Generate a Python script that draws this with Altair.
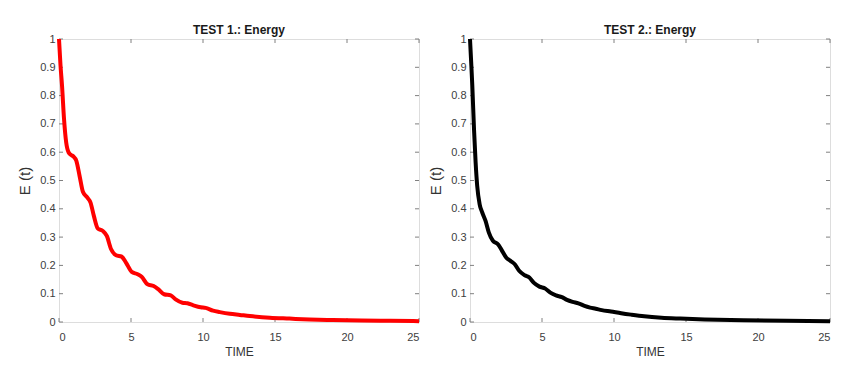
import altair as alt
import pandas as pd

# ---- data ----
t1 = [0, 0.1, 0.21, 0.35, 0.5, 0.67, 0.85, 1.0, 1.2, 1.43, 1.66, 1.96, 2.19, 2.42, 2.7,
      3.04, 3.32, 3.62, 3.96, 4.35, 4.65, 5.05, 5.46, 5.74, 6.15, 6.57, 6.89, 7.3, 7.76,
      8.1, 8.57, 8.92, 9.33, 9.84, 10.18, 10.7, 11.17, 11.86, 12.56, 13.25, 14.64, 16.0,
      17.4, 19.0, 21.0, 23.0, 25.0]
e1 = [1.0, 0.91, 0.835, 0.717, 0.634, 0.599, 0.59, 0.585, 0.57, 0.516, 0.46, 0.44, 0.422,
      0.375, 0.33, 0.322, 0.304, 0.257, 0.236, 0.231, 0.21, 0.177, 0.169, 0.16, 0.133,
      0.127, 0.116, 0.098, 0.094, 0.08, 0.068, 0.066, 0.059, 0.052, 0.05, 0.04, 0.035,
      0.029, 0.025, 0.021, 0.015, 0.012, 0.009, 0.007, 0.005, 0.004, 0.003]

t2 = [0, 0.08, 0.16, 0.28, 0.39, 0.5, 0.67, 0.85, 1.08, 1.31, 1.59, 1.94, 2.19, 2.51,
      2.81, 3.11, 3.43, 3.8, 4.12, 4.42, 4.82, 5.23, 5.58, 5.97, 6.38, 6.73, 7.12, 7.53,
      7.95, 8.34, 8.73, 9.15, 9.79, 10.5, 11.18, 12.1, 13.3, 14.6, 16.3, 19.0, 22.0, 25.0]
e2 = [1.0, 0.92, 0.835, 0.68, 0.564, 0.481, 0.416, 0.387, 0.357, 0.316, 0.287, 0.275,
      0.255, 0.228, 0.216, 0.204, 0.18, 0.165, 0.157, 0.139, 0.125, 0.118, 0.104, 0.094,
      0.088, 0.078, 0.071, 0.066, 0.057, 0.051, 0.047, 0.042, 0.037, 0.031, 0.026, 0.02,
      0.015, 0.012, 0.009, 0.006, 0.004, 0.003]

x_ticks = [0, 5, 10, 15, 20, 25]
y_ticks = [0, 0.1, 0.2, 0.3, 0.4, 0.5, 0.6, 0.7, 0.8, 0.9, 1]

titles = ["TEST 1.: Energy", "TEST 2.: Energy"]
colors = ["#ff0000", "#000000"]

W, H = 360, 283
FONT = "Liberation Sans"
TICK_COLOR = "#808080"

xscale = alt.Scale(domain=[0, 25], nice=False)
yscale = alt.Scale(domain=[0, 1], nice=False)

xaxis = alt.Axis(values=x_ticks, tickSize=0, domain=False, grid=False,
                 labelPadding=9, titlePadding=4, labelFontSize=11,
                 titleFontSize=12, labelColor="#404040",
                 titleColor="#333333", labelFont=FONT, titleFont=FONT,
                 titleFontWeight="normal")
yaxis = alt.Axis(values=y_ticks, format="~g", tickSize=0, domain=False,
                 grid=False, labelPadding=4, titlePadding=7,
                 labelFontSize=11, titleFontSize=15, labelColor="#404040",
                 titleColor="#333333", labelFont=FONT, titleFont=FONT,
                 titleFontWeight="normal")

xt = pd.DataFrame({"v": x_ticks})
yt = pd.DataFrame({"v": y_ticks})


def X(field):
    return alt.X(field, scale=xscale, title="TIME", axis=xaxis)


def Y(field):
    return alt.Y(field, scale=yscale, title="E (t)", axis=yaxis)


def panel(t, e, title, color):
    df = pd.DataFrame({"t": t, "e": e})
    line = alt.Chart(df).mark_line(
        color=color, strokeWidth=4, interpolate="monotone", clip=False
    ).encode(x=X("t:Q"), y=Y("e:Q"))
    bx = alt.Chart(xt).mark_rule(color=TICK_COLOR, strokeWidth=1).encode(
        x=X("v:Q"), y=alt.value(H), y2=alt.value(H - 4))
    tx = alt.Chart(xt).mark_rule(color=TICK_COLOR, strokeWidth=1).encode(
        x=X("v:Q"), y=alt.value(0), y2=alt.value(4))
    ly = alt.Chart(yt).mark_rule(color=TICK_COLOR, strokeWidth=1).encode(
        y=Y("v:Q"), x=alt.value(0), x2=alt.value(4))
    ry = alt.Chart(yt).mark_rule(color=TICK_COLOR, strokeWidth=1).encode(
        y=Y("v:Q"), x=alt.value(W), x2=alt.value(W - 4))
    return alt.layer(bx, tx, ly, ry, line).properties(
        width=W, height=H,
        title=alt.TitleParams(title, font=FONT, fontSize=12, fontWeight="bold",
                              color="#1a1a1a", offset=-6, anchor="middle"),
    )


chart = alt.hconcat(
    panel(t1, e1, titles[0], colors[0]),
    panel(t2, e2, titles[1], colors[1]),
    spacing=0,
).properties(
    padding={"left": 9, "top": 15, "right": 5, "bottom": 5}
).configure_view(
    stroke=TICK_COLOR, strokeWidth=1
).configure(background="white")

chart.save("out.html", embed_options={"renderer": "svg", "actions": False})
